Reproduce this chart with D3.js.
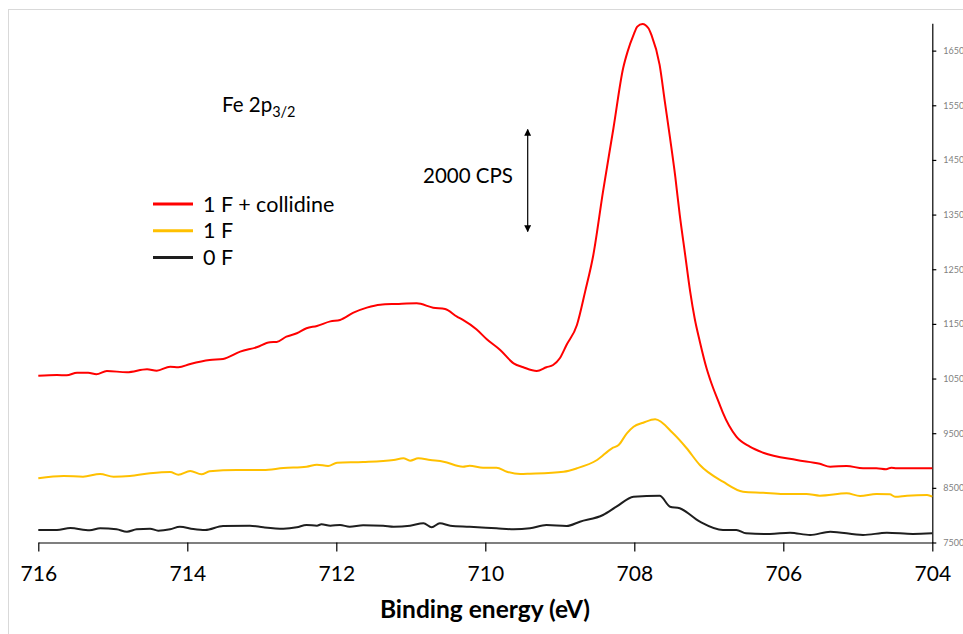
<!DOCTYPE html>
<html>
<head>
<meta charset="utf-8">
<script src="https://cdn.jsdelivr.net/npm/d3@7"></script>
<style>
  html, body { margin: 0; padding: 0; background: #fff; overflow: hidden; }
  svg { display: block; }
  text { font-family: Lato, "Open Sans", sans-serif; }
</style>
</head>
<body>
<svg id="chart" width="963" height="634"></svg>
<script>
// Fe 2p3/2 XPS spectra: binding energy (eV) vs counts per second

// 1 F + collidine
const redEnergy = [716.00,715.75,715.62,715.48,715.33,715.22,715.08,714.81,714.54,714.41,714.23,714.12,713.96,713.70,713.52,713.29,713.07,712.89,712.80,712.67,712.53,712.40,712.26,712.08,711.95,711.77,711.59,711.41,711.19,710.92,710.70,710.54,710.38,710.30,710.12,709.98,709.80,709.62,709.49,709.31,709.18,709.09,709.00,708.91,708.77,708.66,708.55,708.42,708.28,708.15,708.09,708.01,707.96,707.89,707.81,707.77,707.66,707.59,707.52,707.45,707.39,707.32,707.25,707.19,707.12,707.03,706.98,706.85,706.81,706.63,706.45,706.27,705.82,705.51,705.37,705.15,704.93,704.75,704.62,704.55,704.48,704.20,704.00];
const redCps = [10550,10565,10560,10607,10607,10578,10638,10615,10670,10644,10717,10706,10767,10840,10858,10992,11072,11164,11169,11266,11328,11420,11462,11546,11572,11705,11797,11852,11865,11877,11797,11773,11632,11572,11402,11219,11023,10779,10706,10638,10706,10748,10871,11114,11480,12090,12761,13920,15080,16178,16482,16787,16939,16989,16910,16787,16238,15567,14897,14194,13493,12792,12090,11603,11175,10688,10474,10010,9870,9436,9253,9143,9010,8940,8887,8900,8858,8858,8840,8870,8858,8858,8858];

// 1 F
const yellowEnergy = [716.00,715.66,715.40,715.17,714.99,714.77,714.50,714.23,714.12,713.96,713.81,713.70,713.34,712.98,712.71,712.40,712.26,712.11,711.99,711.64,711.23,711.10,711.01,710.90,710.74,710.56,710.30,710.21,710.03,709.85,709.71,709.53,709.40,708.95,708.77,708.50,708.30,708.21,708.10,708.01,707.88,707.72,707.48,707.30,707.12,706.81,706.54,706.27,706.00,705.69,705.51,705.15,704.97,704.75,704.57,704.50,704.34,704.07,704.00];
const yellowCps = [8675,8717,8704,8754,8704,8717,8766,8790,8741,8808,8748,8803,8827,8827,8863,8887,8924,8900,8960,8973,9010,9041,8997,9041,9010,8979,8887,8905,8869,8869,8796,8754,8760,8796,8858,9010,9224,9284,9498,9619,9692,9755,9498,9229,8918,8613,8430,8411,8388,8388,8357,8400,8351,8388,8382,8338,8357,8369,8338];

// 0 F
const blackEnergy = [716.00,715.75,715.57,715.31,715.17,714.95,714.81,714.68,714.50,714.39,714.23,714.10,713.92,713.76,713.52,713.16,712.98,712.71,712.53,712.40,712.26,712.20,712.08,711.95,711.82,711.64,711.37,711.23,711.01,710.83,710.72,710.61,710.47,710.21,709.85,709.62,709.40,709.18,708.91,708.73,708.42,708.24,708.01,707.66,707.52,707.39,707.12,706.81,706.63,706.50,706.18,705.91,705.64,705.37,704.93,704.61,704.26,704.00];
const blackCps = [7729,7729,7765,7723,7760,7742,7698,7742,7753,7716,7742,7789,7747,7729,7802,7807,7778,7753,7778,7820,7807,7833,7807,7820,7789,7815,7807,7789,7807,7851,7778,7851,7807,7789,7760,7742,7760,7820,7802,7881,8003,8155,8338,8356,8155,8126,7881,7729,7729,7668,7656,7679,7637,7698,7637,7679,7656,7668];

const seriesNames = ["1 F + collidine", "1 F", "0 F"];
const seriesColors = ["#ff0000", "#ffc000", "#1e1e1e"];

const xTicks = [716, 714, 712, 710, 708, 706, 704];
const yTicks = [7500, 8500, 9500, 10500, 11500, 12500, 13500, 14500, 15500, 16500];

const svg = d3.select("#chart");

// outer chart frame
svg.append("rect")
  .attr("x", 8.5).attr("y", 9.5)
  .attr("width", 1000).attr("height", 700)
  .attr("fill", "none").attr("stroke", "#d9d9d9").attr("stroke-width", 1);

const x = d3.scaleLinear().domain([716, 704]).range([38.3, 932.3]);
const y = d3.scaleLinear().domain([7500, 17000]).range([542.5, 23.3]);

// bottom axis
const xAxis = svg.append("g")
  .attr("transform", `translate(0,${y(7500)})`)
  .call(d3.axisBottom(x).tickValues(xTicks).tickFormat(d3.format("d")).tickSize(9).tickSizeOuter(0));
xAxis.select(".domain").attr("stroke", "#000").attr("stroke-width", 1.2);
xAxis.selectAll(".tick line").attr("stroke", "#000").attr("stroke-width", 1.2);
xAxis.selectAll(".tick text")
  .attr("font-family", "Lato, sans-serif")
  .attr("font-size", 21).attr("fill", "#000").attr("dy", "1.25em");

// right axis (labels run off the right edge of the frame)
const yAxis = svg.append("g")
  .attr("transform", `translate(${x(704)},0)`)
  .call(d3.axisRight(y).tickValues(yTicks).tickFormat(d3.format("d")).tickSize(4).tickSizeOuter(0).tickPadding(7));
yAxis.select(".domain").attr("stroke", "#000").attr("stroke-width", 1.2);
yAxis.selectAll(".tick line").attr("stroke", "#000").attr("stroke-width", 1.2);
yAxis.selectAll(".tick text")
  .attr("font-family", "Lato, sans-serif")
  .attr("font-size", 9).attr("fill", "#7f7f7f");

// axis title
svg.append("text")
  .attr("x", 485).attr("y", 618)
  .attr("text-anchor", "middle")
  .attr("font-size", 24.5).attr("font-weight", "bold")
  .attr("fill", "#000")
  .text("Binding energy (eV)");

// spectra
const line = d3.line()
  .x(d => x(d[0]))
  .y(d => y(d[1]))
  .curve(d3.curveMonotoneX);

const series = [
  d3.zip(blackEnergy, blackCps),
  d3.zip(yellowEnergy, yellowCps),
  d3.zip(redEnergy, redCps)
];
const drawColors = [seriesColors[2], seriesColors[1], seriesColors[0]];
svg.append("g").selectAll("path")
  .data(series)
  .join("path")
  .attr("d", line)
  .attr("fill", "none")
  .attr("stroke", (d, i) => drawColors[i])
  .attr("stroke-width", 2)
  .attr("stroke-linejoin", "round");

// legend
const legend = svg.append("g");
seriesNames.forEach((name, i) => {
  const ly = 204 + i * 26.7;
  legend.append("line")
    .attr("x1", 153).attr("x2", 193)
    .attr("y1", ly).attr("y2", ly)
    .attr("stroke", seriesColors[i]).attr("stroke-width", 3);
  legend.append("text")
    .attr("x", 203).attr("y", ly + 7.5)
    .attr("font-size", 21.5).attr("fill", "#000")
    .text(name);
});

// peak label
const title = svg.append("text")
  .attr("x", 222).attr("y", 111.5)
  .attr("font-size", 20.5).attr("fill", "#000");
title.append("tspan").text("Fe 2p");
title.append("tspan").attr("font-size", 14.5).attr("dy", 5).text("3/2");

// intensity scale bar: 2000 CPS
svg.append("defs").append("marker")
  .attr("id", "arrowhead")
  .attr("viewBox", "0 0 10 10")
  .attr("refX", 9).attr("refY", 5)
  .attr("markerWidth", 7).attr("markerHeight", 7)
  .attr("markerUnits", "userSpaceOnUse")
  .attr("orient", "auto-start-reverse")
  .append("path").attr("d", "M0,0 L10,5 L0,10 z").attr("fill", "#000");

const barX = 527.7;
svg.append("line")
  .attr("x1", barX).attr("x2", barX)
  .attr("y1", 129.5).attr("y2", 231.5)
  .attr("stroke", "#000").attr("stroke-width", 1.2)
  .attr("marker-start", "url(#arrowhead)")
  .attr("marker-end", "url(#arrowhead)");

svg.append("text")
  .attr("x", 423).attr("y", 183.3)
  .attr("font-size", 20.5).attr("fill", "#000")
  .text("2000 CPS");
</script>
</body>
</html>
